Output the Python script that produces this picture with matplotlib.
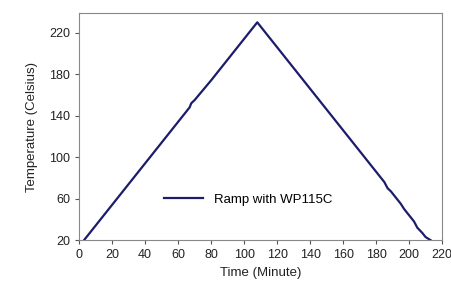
import matplotlib
matplotlib.use("Agg")
import matplotlib.pyplot as plt

time_min = [3, 10, 20, 30, 40, 50, 60, 65, 67, 68, 70, 80, 90, 100, 108,
            115, 120, 130, 140, 150, 160, 170, 180, 185, 187, 189, 192, 195,
            197, 200, 203, 205, 208, 210, 213]
temp_c = [20, 34, 54, 74, 94, 114, 134, 144, 148, 152, 155, 174, 194, 214, 230,
          216, 206, 186, 166, 146, 126, 106, 86, 76, 70, 67, 61, 55,
          50, 44, 38, 32, 27, 23, 20]
xticks = list(range(0, 221, 20))
yticks = list(range(20, 221, 40))

plt.rcParams['font.family'] = ['Liberation Sans', 'DejaVu Sans']
fig = plt.figure(figsize=(4.52, 2.95), dpi=100)
ax = fig.add_axes([0.175, 0.186, 0.803, 0.770])
ax.plot(time_min, temp_c, color='#1c1c6b', lw=1.6, label='Ramp with WP115C')
ax.set_xlim(0, 220)
ax.set_ylim(20, 239)
ax.set_xticks(xticks)
ax.set_yticks(yticks)
ax.tick_params(direction='out', length=3, colors='#555555', labelcolor='#222222', labelsize=9)
for s in ax.spines.values():
    s.set_color('#888888')
ax.set_xlabel('Time (Minute)', fontsize=9.5, color='#222222')
ax.set_ylabel('Temperature (Celsius)', fontsize=9.5, color='#222222', labelpad=8)
ax.legend(loc='lower left', bbox_to_anchor=(0.2, 0.1), frameon=False, fontsize=9.5,
          handlelength=3)
fig.savefig('out.png', dpi=100)
